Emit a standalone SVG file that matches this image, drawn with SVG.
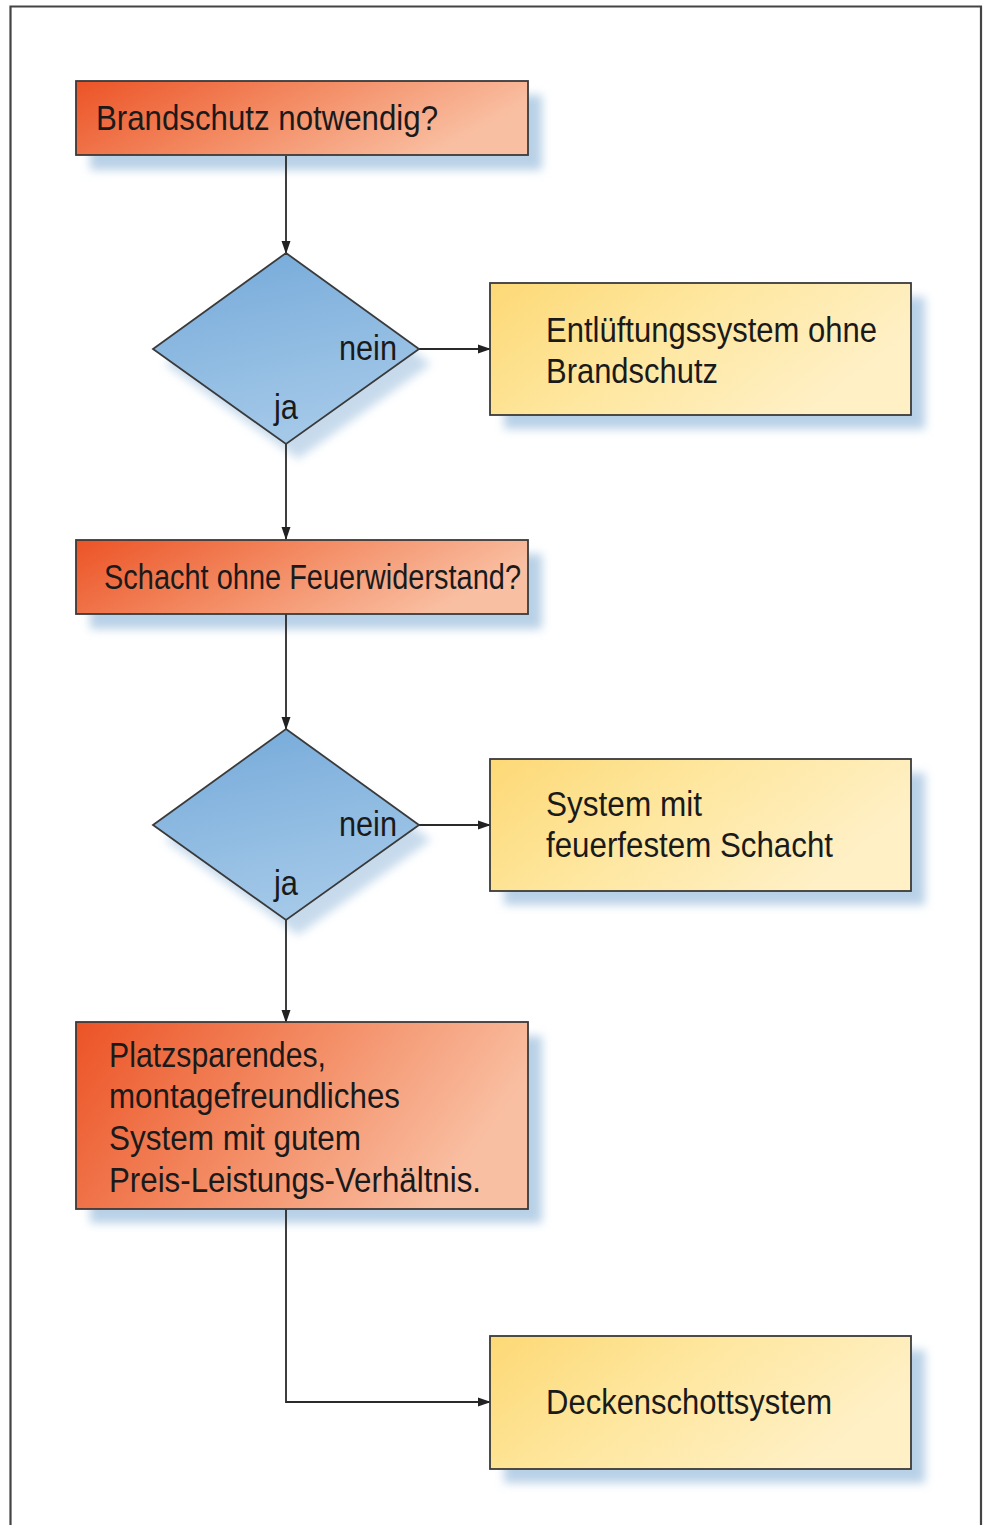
<svg xmlns="http://www.w3.org/2000/svg" width="989" height="1525" viewBox="0 0 989 1525">
<defs>
<linearGradient id="gOr" x1="0" y1="0" x2="1" y2="0.3">
<stop offset="0" stop-color="#ec5326"/>
<stop offset="0.5" stop-color="#f38a62"/>
<stop offset="1" stop-color="#f9bfa2"/>
</linearGradient>
<linearGradient id="gYe" x1="0" y1="0" x2="1" y2="0.4">
<stop offset="0" stop-color="#fdd976"/>
<stop offset="0.5" stop-color="#fee7a0"/>
<stop offset="1" stop-color="#fff0c6"/>
</linearGradient>
<linearGradient id="gBl" x1="0" y1="0" x2="0.3" y2="1">
<stop offset="0" stop-color="#74a9d9"/>
<stop offset="1" stop-color="#a3c8e8"/>
</linearGradient>
<filter id="sh" x="-20%" y="-30%" width="140%" height="160%">
<feGaussianBlur stdDeviation="5"/>
</filter>
<marker id="ah" markerWidth="13" markerHeight="10" refX="12" refY="5" orient="auto" markerUnits="userSpaceOnUse">
<path d="M0,0.5 L13,5 L0,9.5 z" fill="#222"/>
</marker>
</defs>
<style>
.box{stroke:#3a3a3a;stroke-width:1.8}
.shd{fill:#b9d1e7}
.t{font-family:"Liberation Sans",Arial,sans-serif;font-size:35px;fill:#1a1a1a}
.c{fill:none;stroke:#2a2a2a;stroke-width:1.8}
</style>
<rect x="0" y="0" width="989" height="1525" fill="#ffffff"/>
<path d="M10.5,1525 V6.5 H981 V1525" fill="none" stroke="#444" stroke-width="2.2"/>

<g id="shadows">
<rect class="shd" x="90" y="95" width="452" height="75" filter="url(#sh)"/>
<rect class="shd" x="504" y="297" width="421" height="132" filter="url(#sh)"/>
<rect class="shd" x="90" y="554" width="452" height="75" filter="url(#sh)"/>
<rect class="shd" x="504" y="773" width="421" height="132" filter="url(#sh)"/>
<rect class="shd" x="90" y="1036" width="452" height="187" filter="url(#sh)"/>
<rect class="shd" x="504" y="1350" width="421" height="133" filter="url(#sh)"/>
<polygon class="shd" points="298,268 431,364 298,459 165,364" filter="url(#sh)" opacity="0.8"/>
<polygon class="shd" points="298,744 431,840 298,935 165,840" filter="url(#sh)" opacity="0.8"/>
</g>

<g id="connectors">
<line class="c" x1="286" y1="156" x2="286" y2="253" marker-end="url(#ah)"/>
<line class="c" x1="419" y1="349" x2="490" y2="349" marker-end="url(#ah)"/>
<line class="c" x1="286" y1="444" x2="286" y2="539" marker-end="url(#ah)"/>
<line class="c" x1="286" y1="614" x2="286" y2="729" marker-end="url(#ah)"/>
<line class="c" x1="419" y1="825" x2="490" y2="825" marker-end="url(#ah)"/>
<line class="c" x1="286" y1="920" x2="286" y2="1022" marker-end="url(#ah)"/>
<polyline class="c" points="286,1209 286,1402 490,1402" marker-end="url(#ah)"/>
</g>

<g id="n1">
<rect class="box" x="76" y="81" width="452" height="74" fill="url(#gOr)"/>
<text class="t" x="96" y="130" textLength="342" lengthAdjust="spacingAndGlyphs">Brandschutz notwendig?</text>
</g>

<g id="d1">
<polygon class="box" points="286,253 419,349 286,444 153,349" fill="url(#gBl)"/>
<text class="t" x="339" y="360" textLength="58" lengthAdjust="spacingAndGlyphs">nein</text>
<text class="t" x="274" y="419" textLength="24" lengthAdjust="spacingAndGlyphs">ja</text>
</g>

<g id="y1">
<rect class="box" x="490" y="283" width="421" height="132" fill="url(#gYe)"/>
<text class="t" x="546" y="342" textLength="331" lengthAdjust="spacingAndGlyphs">Entlüftungssystem ohne</text>
<text class="t" x="546" y="383" textLength="172" lengthAdjust="spacingAndGlyphs">Brandschutz</text>
</g>

<g id="n2">
<rect class="box" x="76" y="540" width="452" height="74" fill="url(#gOr)"/>
<text class="t" x="104" y="589" textLength="417" lengthAdjust="spacingAndGlyphs">Schacht ohne Feuerwiderstand?</text>
</g>

<g id="d2">
<polygon class="box" points="286,729 419,825 286,920 153,825" fill="url(#gBl)"/>
<text class="t" x="339" y="836" textLength="58" lengthAdjust="spacingAndGlyphs">nein</text>
<text class="t" x="274" y="895" textLength="24" lengthAdjust="spacingAndGlyphs">ja</text>
</g>

<g id="y2">
<rect class="box" x="490" y="759" width="421" height="132" fill="url(#gYe)"/>
<text class="t" x="546" y="816" textLength="156" lengthAdjust="spacingAndGlyphs">System mit</text>
<text class="t" x="546" y="857" textLength="287" lengthAdjust="spacingAndGlyphs">feuerfestem Schacht</text>
</g>

<g id="n3">
<rect class="box" x="76" y="1022" width="452" height="187" fill="url(#gOr)"/>
<text class="t" x="109" y="1067" textLength="217" lengthAdjust="spacingAndGlyphs">Platzsparendes,</text>
<text class="t" x="109" y="1108" textLength="291" lengthAdjust="spacingAndGlyphs">montagefreundliches</text>
<text class="t" x="109" y="1150" textLength="252" lengthAdjust="spacingAndGlyphs">System mit gutem</text>
<text class="t" x="109" y="1192" textLength="372" lengthAdjust="spacingAndGlyphs">Preis-Leistungs-Verhältnis.</text>
</g>

<g id="y3">
<rect class="box" x="490" y="1336" width="421" height="133" fill="url(#gYe)"/>
<text class="t" x="546" y="1414" textLength="286" lengthAdjust="spacingAndGlyphs">Deckenschottsystem</text>
</g>
</svg>
